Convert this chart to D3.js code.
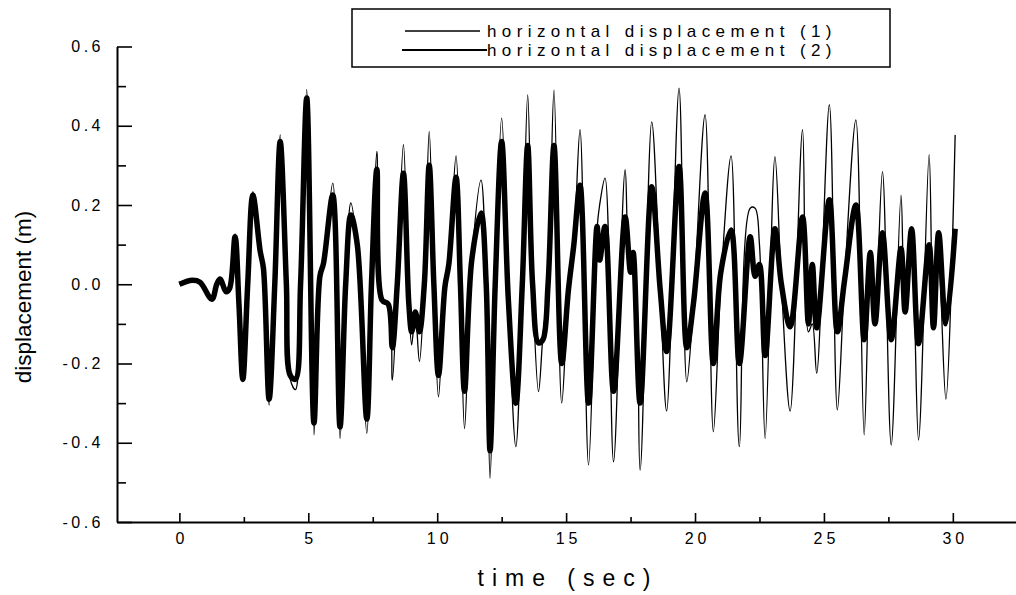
<!DOCTYPE html>
<meta charset="utf-8">
<style>
body { margin: 0; background: #fff; }
text { font-family: Arial, "Liberation Sans", sans-serif; fill: #000; }
</style>
<body>
<script src="https://d3js.org/d3.v7.min.js"></script>
<script>
var time = [0.0, 0.5, 0.8, 1.26, 1.45, 1.58, 1.81, 1.95, 2.16, 2.31, 2.46, 2.65, 2.85, 3.13, 3.26, 3.48, 3.7, 3.91,
  4.15, 4.3, 4.5, 4.7, 4.94, 5.22, 5.45, 5.59, 5.95, 6.23, 6.45, 6.65, 6.9, 7.27, 7.45, 7.66, 7.86, 8.1, 8.26,
  8.45, 8.69, 8.9, 9.01, 9.15, 9.31, 9.5, 9.69, 9.87, 10.05, 10.3, 10.45, 10.73, 10.9, 11.06, 11.34, 11.7, 11.9,
  12.05, 12.25, 12.5, 12.76, 13.05, 13.3, 13.51, 13.7, 13.93, 14.1, 14.3, 14.53, 14.83, 15.09, 15.3, 15.54, 15.87,
  16.2, 16.3, 16.51, 16.84, 17.29, 17.5, 17.6, 17.87, 18.32, 18.65, 18.9, 19.38, 19.68, 19.94, 20.39, 20.71, 21.0,
  21.4, 21.72, 22.14, 22.33, 22.5, 22.72, 23.1, 23.35, 23.69, 24.17, 24.4, 24.55, 24.72, 25.21, 25.52, 25.8, 26.24,
  26.56, 26.8, 26.98, 27.27, 27.61, 27.99, 28.15, 28.4, 28.67, 29.08, 29.25, 29.45, 29.73, 30.09];

// horizontal displacement (1) - thin line
var disp1 = [0, 0.01, 0.005, -0.038, 0.0, 0.013, -0.019, -0.01, 0.127, -0.05, -0.246, 0.0, 0.234, 0.078, 0.036, -0.305, 0.0, 0.377,
  0.0, -0.24, -0.266, 0.0, 0.492, -0.38, 0.02, 0.053, 0.255, -0.389, 0.0, 0.205, 0.087, -0.376, 0.0, 0.335, -0.04, -0.05, -0.242,
  0.0, 0.352, -0.05, -0.153, -0.07, -0.195, 0.0, 0.385, 0.0, -0.284, -0.006, 0.05, 0.324, 0.0, -0.364, 0.061, 0.263, 0.0,
  -0.49, 0.0, 0.419, -0.04, -0.41, 0.0, 0.478, 0.0, -0.271, -0.13, 0.0, 0.49, -0.30, -0.014, 0.1, 0.39, -0.456,
  0.14, 0.2, 0.268, -0.448, 0.289, 0.05, 0.05, -0.469, 0.41, -0.014, -0.32, 0.495, -0.246, -0.048, 0.428, -0.372, 0.0,
  0.324, -0.41, 0.192, 0.192, 0.1, -0.389, 0.322, 0.0, -0.32, 0.39, -0.12, -0.1, -0.225, 0.453, -0.317, 0.01, 0.415,
  -0.38, 0.08, -0.1, 0.284, -0.406, 0.225, -0.05, 0.05, -0.393, 0.327, -0.11, 0.05, -0.29, 0.377];

// horizontal displacement (2) - thick line
var disp2 = [0, 0.01, 0.005, -0.038, 0.0, 0.013, -0.019, -0.01, 0.12, -0.05, -0.24, 0.0, 0.225, 0.085, 0.04, -0.29, 0.0, 0.36,
  0.0, -0.23, -0.24, 0.0, 0.47, -0.35, 0.02, 0.053, 0.225, -0.36, 0.0, 0.175, 0.10, -0.34, 0.0, 0.29, -0.04, -0.05, -0.16,
  0.0, 0.28, -0.05, -0.12, -0.07, -0.12, 0.0, 0.30, 0.0, -0.23, -0.006, 0.05, 0.27, 0.0, -0.27, 0.061, 0.18, 0.0,
  -0.42, 0.0, 0.36, -0.04, -0.30, 0.0, 0.35, 0.0, -0.148, -0.14, 0.0, 0.35, -0.2, -0.014, 0.1, 0.25, -0.30,
  0.146, 0.061, 0.146, -0.27, 0.17, 0.03, 0.08, -0.30, 0.246, -0.014, -0.17, 0.297, -0.16, -0.048, 0.23, -0.2, 0.03,
  0.137, -0.2, 0.12, 0.02, 0.05, -0.18, 0.14, 0.0, -0.107, 0.17, -0.10, 0.05, -0.11, 0.213, -0.12, 0.01, 0.2,
  -0.14, 0.08, -0.1, 0.13, -0.14, 0.09, -0.07, 0.14, -0.15, 0.1, -0.11, 0.13, -0.1, 0.14];

var xTicks = [0, 5, 10, 15, 20, 25, 30];
var xMinor = [2.5, 7.5, 12.5, 17.5, 22.5, 27.5, 32.5];
var yTicks = [-0.6, -0.4, -0.2, 0.0, 0.2, 0.4, 0.6];
var yMinor = [-0.5, -0.3, -0.1, 0.1, 0.3, 0.5];
var names = ["horizontal displacement (1)", "horizontal displacement (2)"];

var width = 1016, height = 595;

var svg = d3.select("body").append("svg")
    .attr("width", width)
    .attr("height", height);

// scales
var x = d3.scaleLinear().domain([-2.42, 32.45]).range([117, 1016]);
var y = d3.scaleLinear().domain([-0.6, 0.6]).range([522, 46.5]);

var line1 = d3.line()
    .x(function(d, i) { return x(time[i]); })
    .y(function(d) { return y(d); })
    .curve(d3.curveCatmullRom.alpha(0.5));

// thick trace first, thin trace over it
svg.append("path")
    .datum(disp2)
    .attr("d", line1)
    .attr("fill", "none")
    .attr("stroke", "#000")
    .attr("stroke-width", 5.5)
    .attr("stroke-linejoin", "round");

svg.append("path")
    .datum(disp1)
    .attr("d", line1)
    .attr("fill", "none")
    .attr("stroke", "#000")
    .attr("stroke-width", 1.3)
    .attr("stroke-linejoin", "round");

// X axis (ticks point up into the plot)
var gx = svg.append("g")
    .attr("transform", "translate(0," + y(-0.6) + ")")
    .call(d3.axisBottom(x).tickValues(xTicks).tickSize(-9).tickSizeOuter(0).tickPadding(11)
        .tickFormat(function(d) { return d; }));
svg.append("g")
    .attr("transform", "translate(0," + y(-0.6) + ")")
    .call(d3.axisBottom(x).tickValues(xMinor).tickSize(-5).tickSizeOuter(0).tickFormat(""))
    .select(".domain").remove();

// Y axis (ticks point right), plain hyphen for minus like the original
var gy = svg.append("g")
    .attr("transform", "translate(" + x(-2.42) + ",0)")
    .call(d3.axisLeft(y).tickValues(yTicks).tickSize(-15).tickSizeOuter(0).tickPadding(16)
        .tickFormat(function(d) { return d3.format(".1f")(d).replace("\u2212", "-"); }));
svg.append("g")
    .attr("transform", "translate(" + x(-2.42) + ",0)")
    .call(d3.axisLeft(y).tickValues(yMinor).tickSize(-9).tickSizeOuter(0).tickFormat(""))
    .select(".domain").remove();

svg.selectAll(".domain").attr("stroke-width", 2);
svg.selectAll(".tick line").attr("stroke-width", 1.6);

gx.selectAll("text")
    .style("font-size", "16px")
    .style("letter-spacing", "4px")
    .attr("dx", "2px");
gy.selectAll("text")
    .style("font-size", "16px")
    .style("letter-spacing", "3.5px")
    .attr("dx", "3px");

// axis titles
svg.append("text")
    .attr("x", 568)
    .attr("y", 586)
    .attr("text-anchor", "middle")
    .style("font-size", "23px")
    .style("letter-spacing", "8px")
    .text("time (sec)");

svg.append("text")
    .attr("transform", "translate(31,297) rotate(-90)")
    .attr("text-anchor", "middle")
    .style("font-size", "22.5px")
    .text("displacement (m)");

// legend
var lg = svg.append("g");
lg.append("rect")
    .attr("x", 352).attr("y", 9)
    .attr("width", 538).attr("height", 58)
    .attr("fill", "#fff")
    .attr("stroke", "#000")
    .attr("stroke-width", 1.5);

var legendRows = [{x1: 405, x2: 480, w: 1.3}, {x1: 402, x2: 487, w: 1.8}];
names.forEach(function(n, i) {
  var ly = 31 + i * 19;
  lg.append("line")
      .attr("x1", legendRows[i].x1).attr("x2", legendRows[i].x2)
      .attr("y1", ly).attr("y2", ly)
      .attr("stroke", "#000")
      .attr("stroke-width", legendRows[i].w);
  lg.append("text")
      .attr("x", 487)
      .attr("y", ly + 6)
      .style("font-size", "17px")
      .style("letter-spacing", "5.4px")
      .text(n);
});
</script>
</body>
